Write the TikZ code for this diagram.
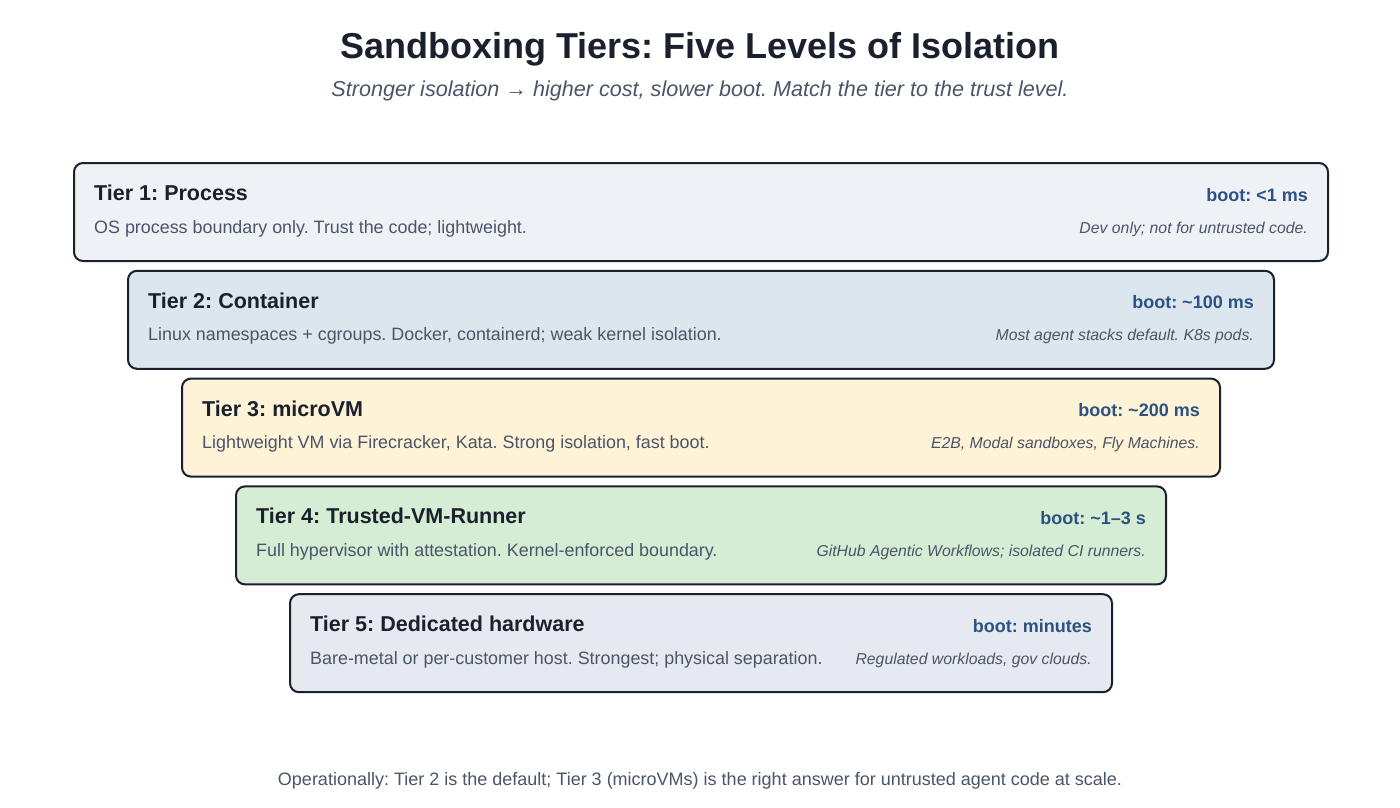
\documentclass[tikz,border=0pt]{standalone}
\usepackage{fontspec}
\setmainfont{Liberation Sans}
\definecolor{ink}{HTML}{1A202C}
\definecolor{muted}{HTML}{4A5568}
\definecolor{bootc}{HTML}{2C5282}
\definecolor{fa}{HTML}{EEF2F7}
\definecolor{fb}{HTML}{DCE6EF}
\definecolor{fc}{HTML}{FEF3D7}
\definecolor{fd}{HTML}{D4EDD4}
\definecolor{fe}{HTML}{E6EAF0}
\tikzset{
  tierbox/.style={draw=ink, line width=2pt, rounded corners=9pt},
  tiername/.style={anchor=base west, inner sep=0pt, text=ink, font=\fontsize{21.5}{24}\selectfont\bfseries},
  tierdesc/.style={anchor=base west, inner sep=0pt, text=muted, font=\fontsize{17.9}{20}\selectfont},
  tierboot/.style={anchor=base east, inner sep=0pt, text=bootc, font=\fontsize{18}{20}\selectfont\bfseries},
  tiernote/.style={anchor=base east, inner sep=0pt, text=muted, font=\fontsize{15.8}{18}\selectfont\itshape},
}
\begin{document}
\frenchspacing
\begin{tikzpicture}[x=1pt,y=-1pt]
\useasboundingbox[fill=white] (0,0) rectangle (1400,807);
\node[anchor=base, inner sep=0pt, text=ink, font=\fontsize{36}{40}\selectfont\bfseries] (title) at (700,58) {Sandboxing Tiers: Five Levels of Isolation};
\node[anchor=base, inner sep=0pt, text=muted, font=\fontsize{21.6}{24}\selectfont\itshape] (subtitle) at (700,96) {Stronger isolation → higher cost, slower boot. Match the tier to the trust level.};
% tier boxes
\foreach \i/\fc/\name/\desc/\boot/\note in {
 0/fa/{Tier 1: Process}/{OS process boundary only. Trust the code; lightweight.}/{boot: <1 ms}/{Dev only; not for untrusted code.},
 1/fb/{Tier 2: Container}/{Linux namespaces + cgroups. Docker, containerd; weak kernel isolation.}/{boot: \textasciitilde100 ms}/{Most agent stacks default. K8s pods.},
 2/fc/{Tier 3: microVM}/{Lightweight VM via Firecracker, Kata. Strong isolation, fast boot.}/{boot: \textasciitilde200 ms}/{E2B, Modal sandboxes, Fly Machines.},
 3/fd/{Tier 4: Trusted-VM-Runner}/{Full hypervisor with attestation. Kernel-enforced boundary.}/{boot: \textasciitilde1–3 s}/{GitHub Agentic Workflows; isolated CI runners.},
 4/fe/{Tier 5: Dedicated hardware}/{Bare-metal or per-customer host. Strongest; physical separation.}/{boot: minutes}/{Regulated workloads, gov clouds.}}{
  \pgfmathsetmacro{\xl}{73+54*\i}
  \pgfmathsetmacro{\xr}{1327-54*\i}
  \pgfmathsetmacro{\yt}{162+107.8*\i}
  \node[tierbox, fill=\fc, minimum width=\xr-\xl, minimum height=98, anchor=north west, inner sep=0pt] (box\i) at (\xl,\yt) {};
  \node[tiername] (name\i) at ([xshift=21pt,yshift=-38.5pt]box\i.north west) {\name};
  \node[tierdesc] (desc\i) at ([xshift=21pt,yshift=-71pt]box\i.north west) {\desc};
  \node[tierboot] (boot\i) at ([xshift=-21pt,yshift=-39pt]box\i.north east) {\boot};
  \node[tiernote] (note\i) at ([xshift=-21pt,yshift=-71pt]box\i.north east) {\note};
}
\node[anchor=base, inner sep=0pt, text=muted, font=\fontsize{18}{20}\selectfont] (footer) at (700,785) {Operationally: Tier 2 is the default; Tier 3 (microVMs) is the right answer for untrusted agent code at scale.};
\end{tikzpicture}
\end{document}
